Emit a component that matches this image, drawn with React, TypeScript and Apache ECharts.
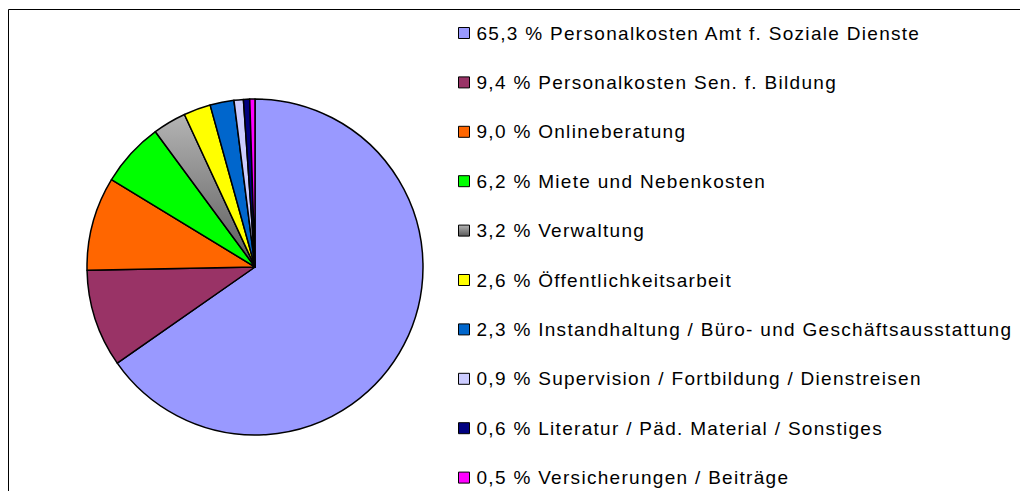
import React, { useEffect, useRef } from "react";
import * as echarts from "echarts";

const labels = [
  "Personalkosten Amt f. Soziale Dienste",
  "Personalkosten Sen. f. Bildung",
  "Onlineberatung",
  "Miete und Nebenkosten",
  "Verwaltung",
  "Öffentlichkeitsarbeit",
  "Instandhaltung / Büro- und Geschäftsausstattung",
  "Supervision / Fortbildung / Dienstreisen",
  "Literatur / Päd. Material / Sonstiges",
  "Versicherungen / Beiträge",
];
const values = [65.3, 9.4, 9.0, 6.2, 3.2, 2.6, 2.3, 0.9, 0.6, 0.5];

const grayGradient = new echarts.graphic.LinearGradient(0, 0, 0, 1, [
  { offset: 0, color: "#b4b4b4" },
  { offset: 1, color: "#5a5a5a" },
]);

const colors: any[] = [
  "#9999FF",
  "#993366",
  "#FF6600",
  "#00FF00",
  grayGradient,
  "#FFFF00",
  "#0066CC",
  "#CCCCFF",
  "#000080",
  "#FF00FF",
];

function fmt(v: number) {
  return v.toFixed(1).replace(".", ",");
}

export default function App() {
  const ref = useRef<HTMLDivElement>(null);
  useEffect(() => {
    if (!ref.current) return;
    const chart = echarts.init(ref.current, undefined, { renderer: "svg" });
    const data = labels.map((name, i) => ({
      name,
      value: values[i],
      itemStyle: { color: colors[i] },
    }));
    chart.setOption({
      animation: false,
      backgroundColor: "#ffffff",
      graphic: [
        {
          type: "rect",
          shape: { x: 0.5, y: 1.5, width: 2000, height: 2000 },
          style: { fill: "none", stroke: "#000", lineWidth: 1 },
          silent: true,
          z: 100,
        },
      ],
      legend: {
        orient: "vertical",
        left: 450,
        top: 15,
        height: 468,
        padding: 0,
        itemWidth: 11,
        itemHeight: 11,
        itemGap: 29.4,
        icon: "rect",
        selectedMode: false,
        itemStyle: { borderColor: "#000", borderWidth: 1 },
        textStyle: {
          fontFamily: "Liberation Sans, Arial, sans-serif",
          fontSize: 19,
          color: "#000",
          lineHeight: 20,
          padding: [0, 0, 0, 2],
        },
        formatter: (name: string) => {
          const i = labels.indexOf(name);
          return fmt(values[i]) + " % " + name;
        },
        data: labels,
      },
      series: [
        {
          type: "pie",
          center: [247, 259],
          radius: 168,
          startAngle: 90,
          clockwise: true,
          label: { show: false },
          labelLine: { show: false },
          emphasis: { disabled: true },
          itemStyle: { borderColor: "#000", borderWidth: 1.5 },
          data,
        },
      ],
    });
    // widen the legend text the way the reference renders it
    ref.current.querySelectorAll("text").forEach((t) => {
      (t as SVGTextElement).style.letterSpacing = "1.3px";
    });
    return () => chart.dispose();
  }, []);
  return (
    <div
      ref={ref}
      style={{ position: "fixed", left: 8, top: 8, width: 1012, height: 483 }}
    />
  );
}
